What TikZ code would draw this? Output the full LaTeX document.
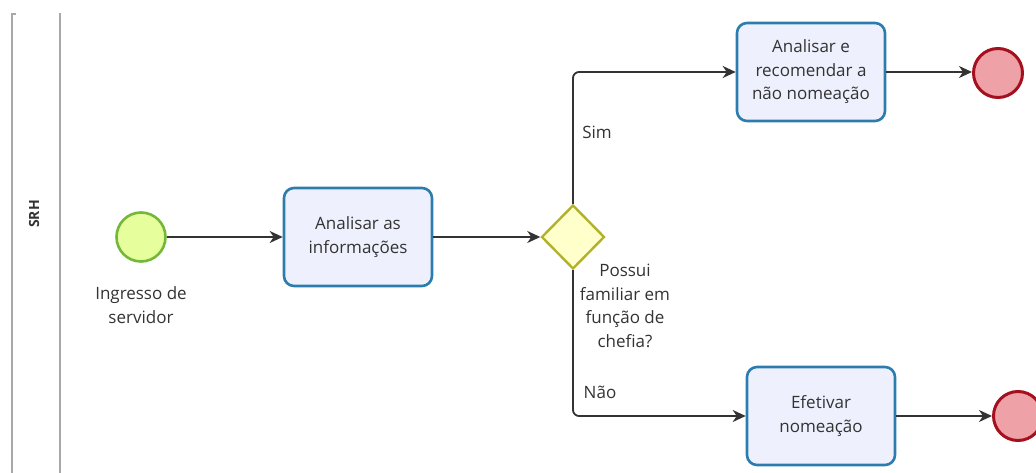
\documentclass[tikz,border=0pt]{standalone}
\usepackage{fontspec}
\setmainfont{Open Sans}
\usetikzlibrary{arrows.meta,shapes.geometric}

\definecolor{txt}{HTML}{333333}
\definecolor{laneline}{HTML}{A8A8A8}
\definecolor{flowline}{HTML}{333333}
\definecolor{taskline}{HTML}{2C7DAE}
\definecolor{taskfill}{HTML}{EEF1FD}
\definecolor{startline}{HTML}{74B83A}
\definecolor{startfill}{HTML}{E6FF9C}
\definecolor{gwline}{HTML}{B2B22A}
\definecolor{gwfill}{HTML}{FFFFCC}
\definecolor{endline}{HTML}{A5101E}
\definecolor{endfill}{HTML}{EEA2A8}

\begin{document}
\begin{tikzpicture}[x=1pt,y=-1pt,
  every node/.style={text=txt},
  lbl/.style={font=\fontsize{17}{23.5}\selectfont, align=center, inner sep=0pt},
  task/.style={lbl, draw=taskline, fill=taskfill, line width=2.6pt,
    rounded corners=10pt, minimum width=148pt, minimum height=98pt},
  startev/.style={circle, draw=startline, fill=startfill, line width=2.6pt,
    minimum size=49pt, inner sep=0pt},
  endev/.style={circle, draw=endline, fill=endfill, line width=3pt,
    minimum size=49pt, inner sep=0pt},
  gateway/.style={diamond, draw=gwline, fill=gwfill, line width=2.4pt,
    minimum width=63pt, minimum height=64pt, inner sep=0pt},
  flow/.style={draw=flowline, line width=1.8pt, rounded corners=6pt,
    -{Stealth[length=13pt,width=12pt,inset=4pt]}},
  lane/.style={draw=laneline, line width=2pt}
]
\useasboundingbox (0,0) rectangle (1036,473);

% swimlane borders and title
\coordinate (laneA) at (12,14);
\coordinate (laneAend) at (12,473);
\coordinate (laneB) at (60,13);
\coordinate (laneBend) at (60,473);
\coordinate (laneTick) at (16,14);
\draw[lane] (laneTick) -- (laneA) -- (laneAend);
\draw[lane] (laneB) -- (laneBend);
\node[rotate=90, font=\fontsize{14}{16}\bfseries, inner sep=0pt] (lanetitle) at (34,214) {SRH};

% events, tasks and gateway
\node[startev] (start) at (141,237) {};
\node[lbl] (startlbl) at (141,305) {Ingresso de\\servidor};
\node[task] (t1) at (358,237) {Analisar as\\informações};
\node[gateway] (gw) at (573,237) {};
\node[lbl] (gwlbl) at (625,306) {Possui\\familiar em\\função de\\chefia?};
\node[task] (t2) at (811,72) {Analisar e\\recomendar a\\não nomeação};
\node[task] (t3) at (821,416) {Efetivar\\nomeação};
\node[endev] (e1) at (998,73) {};
\node[endev] (e2) at (1018,416) {};

% branch labels
\node[lbl] (sim) at (597,132) {Sim};
\node[lbl] (nao) at (600,392) {Não};

% sequence flows
\draw[flow] (start) -- (t1);
\draw[flow] (t1) -- (gw);
\draw[flow] (gw.north) |- (t2.west);
\draw[flow] (gw.south) |- (t3.west);
\draw[flow] (t2) -- (e1.west |- t2);
\draw[flow] (t3) -- (e2.west |- t3);
\end{tikzpicture}
\end{document}
